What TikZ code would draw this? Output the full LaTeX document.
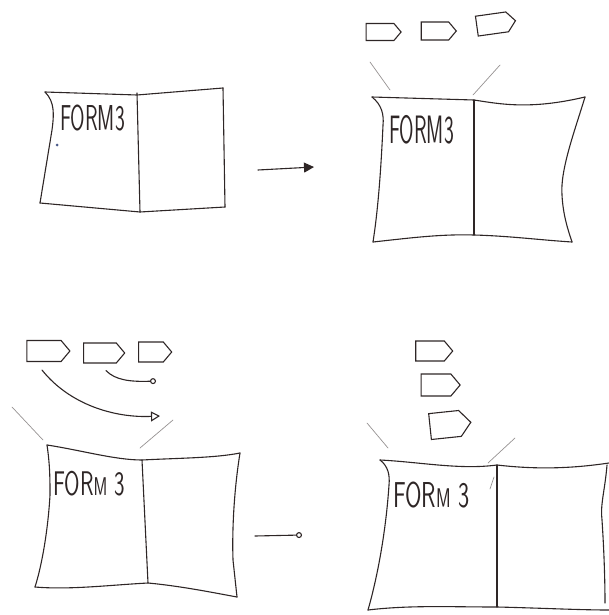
\documentclass[tikz,border=0pt]{standalone}
\usetikzlibrary{shapes.symbols,arrows.meta}
\definecolor{ink}{HTML}{2E2626}
\definecolor{dotblue}{HTML}{4A5A8A}
\begin{document}
\begin{tikzpicture}[x=1pt,y=-1pt,
  pen/.style={line width=1.1pt, draw=ink, line cap=round, line join=round},
  faint/.style={line width=0.7pt, draw=ink!50, line cap=round},
  flag/.style={signal, signal to=east, signal pointer angle=100, draw=ink,
    line width=1.1pt, inner sep=0pt},
  lbl/.style={anchor=base west, inner sep=0pt, text=ink,
    font=\sffamily\fontsize{36}{36}\selectfont}
]
\useasboundingbox (0,0) rectangle (609,615);

% ---------- panel 1 ----------
\draw[pen] (45,92) -- (137,95) -- (223,88);
\draw[pen] (45,92) .. controls (55,102) and (54,115) .. (52,130) -- (40,203);
\draw[pen] (40,203) -- (140,212) -- (225,207);
\draw[pen] (223,88) -- (225,207);
\draw[pen] (137,93) -- (140,212);
\node[lbl] (t1) at (60,130) {\scalebox{0.58}[1]{FORM3}};
\fill[dotblue] (57,145) circle (1.5);

% arrow 1 -> 2
\coordinate (a1s) at (258,170);
\coordinate (a1e) at (314,167);
\draw[pen, -{Triangle[length=10pt,width=10pt]}] (a1s) -- (a1e);

% ---------- panel 2 ----------
\node[flag, minimum width=35, minimum height=17] (f21) at (380,32) {};
\node[flag, minimum width=35, minimum height=18] (f22) at (435,31) {};
\node[flag, minimum width=39, minimum height=20, rotate=8] (f23) at (492,24) {};
\coordinate (d21a) at (370,62); \coordinate (d21b) at (390,90);
\coordinate (d22a) at (500,65); \coordinate (d22b) at (473,95);
\draw[faint] (d21a) -- (d21b);
\draw[faint] (d22a) -- (d22b);
\draw[pen] (372,97) -- (474,100) .. controls (500,104) and (530,110) .. (585,97);
\draw[pen] (372,97) .. controls (382,105) and (384,115) .. (383,125)
  .. controls (381,170) and (378,210) .. (373,242);
\draw[pen] (585,97) .. controls (575,130) and (560,170) .. (562,195)
  .. controls (563,215) and (568,230) .. (572,242);
\draw[pen] (373,242) .. controls (410,238) and (440,234) .. (474,235)
  .. controls (510,236) and (540,240) .. (572,242);
\draw[pen] (474,100) -- (474,235);
\node[lbl] (t2) at (389,143) {\scalebox{0.58}[1.1]{FORM3}};

% ---------- panel 3 ----------
\node[flag, minimum width=43, minimum height=21] (f31) at (44,351) {};
\node[flag, minimum width=41, minimum height=20] (f32) at (100,353) {};
\node[flag, minimum width=33, minimum height=20] (f33) at (151,352) {};
\coordinate (c1e) at (160,416);
\coordinate (c2e) at (156,381);
\draw[pen, -{Triangle[open,length=9pt,width=10pt]}]
  ([xshift=-2pt,yshift=-8pt]f31.south) .. controls (70,405) and (115,418) .. (c1e);
\draw[pen, -{Circle[open,length=6pt,width=6pt]}]
  ([xshift=6pt,yshift=-7pt]f32.south) .. controls (115,380) and (130,382) .. (c2e);
\coordinate (d31a) at (12,407); \coordinate (d31b) at (43,440);
\coordinate (d32a) at (173,420); \coordinate (d32b) at (140,448);
\draw[faint] (d31a) -- (d31b);
\draw[faint] (d32a) -- (d32b);
\draw[pen] (47,445) .. controls (80,450) and (115,460) .. (142,460)
  .. controls (180,458) and (215,458) .. (240,453);
\draw[pen] (47,445) .. controls (50,465) and (50,480) .. (50,495)
  .. controls (48,530) and (42,565) .. (35,587);
\draw[pen] (240,453) .. controls (234,490) and (232,530) .. (233,560) -- (237,597);
\draw[pen] (35,587) .. controls (70,590) and (110,585) .. (148,583)
  .. controls (180,586) and (210,592) .. (237,597);
\draw[pen] (142,460) -- (148,583);
\node[lbl] (t3) at (53,495) {\scalebox{0.62}[0.95]{FOR{\fontsize{27}{27}\selectfont M} 3}};

% arrow 3 -> 4
\coordinate (a2s) at (255,536);
\coordinate (a2e) at (302,535);
\draw[pen, -{Circle[open,length=6pt,width=6pt]}] (a2s) -- (a2e);

% ---------- panel 4 ----------
\node[flag, minimum width=37, minimum height=20] (f41) at (430,351) {};
\node[flag, minimum width=39, minimum height=22] (f42) at (436,385) {};
\node[flag, minimum width=41, minimum height=26, rotate=6] (f43) at (445,425) {};
\coordinate (d41a) at (367,423); \coordinate (d41b) at (388,448);
\coordinate (d42a) at (515,438); \coordinate (d42b) at (488,463);
\coordinate (d43a) at (494,477); \coordinate (d43b) at (490,489);
\draw[faint] (d41a) -- (d41b);
\draw[faint] (d42a) -- (d42b);
\draw[faint] (d43a) -- (d43b);
\draw[pen] (380,460) .. controls (420,462) and (460,470) .. (497,465)
  .. controls (540,470) and (575,468) .. (609,463);
\draw[pen] (380,460) .. controls (388,466) and (390,475) .. (389,485)
  .. controls (386,530) and (378,575) .. (368,610);
\draw[pen] (607,465) .. controls (605,490) and (600,505) .. (602,520)
  .. controls (604,550) and (605,580) .. (605,603);
\draw[pen] (368,610) .. controls (410,605) and (450,607) .. (497,607)
  .. controls (540,608) and (580,610) .. (609,610);
\draw[pen] (497,465) -- (497,607);
\node[lbl] (t4) at (393,507) {\scalebox{0.66}[1]{FOR{\fontsize{27}{27}\selectfont M} 3}};
\end{tikzpicture}
\end{document}
